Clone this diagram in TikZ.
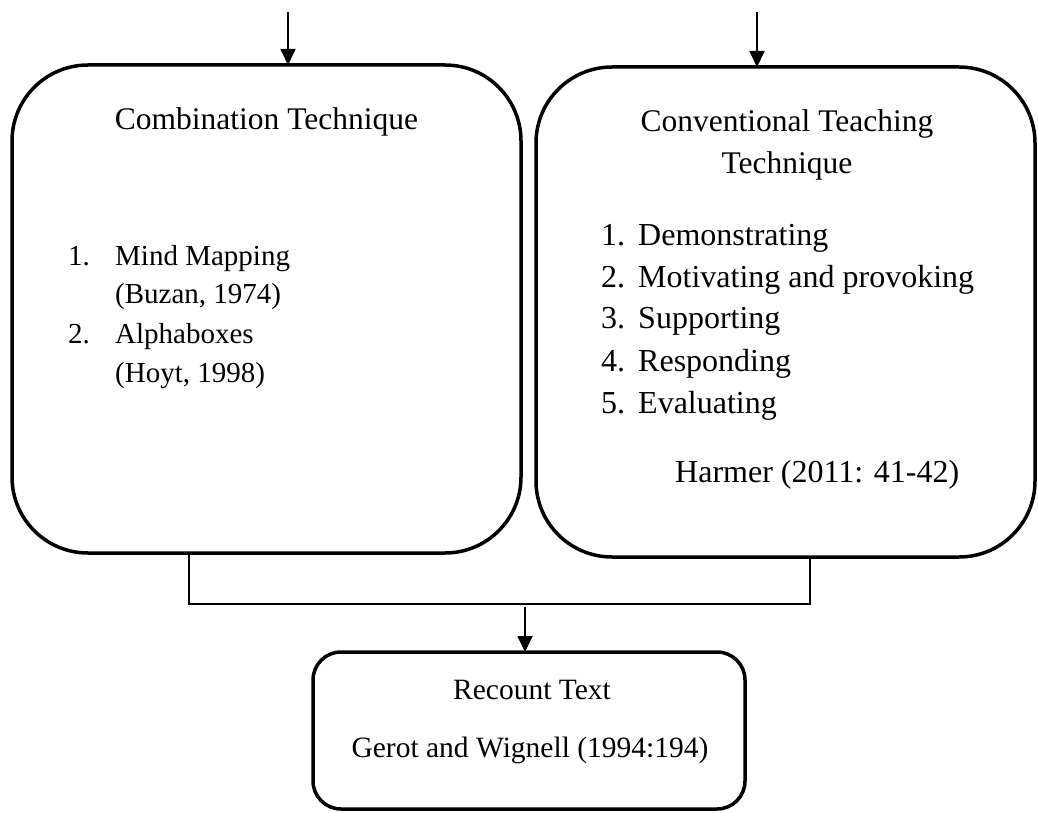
\documentclass[tikz,border=0pt]{standalone}
\usepackage{fontspec}
\setmainfont{Liberation Serif}
\usetikzlibrary{arrows.meta}
\begin{document}
\begin{tikzpicture}[x=1pt,y=-1pt,
  box/.style={draw, line width=3.5pt, inner sep=0pt, outer sep=0pt},
  conn/.style={line width=1.8pt},
  arr/.style={line width=1.8pt, -{Triangle[length=16pt,width=15pt]}},
  lt/.style={font=\fontsize{29}{35}\selectfont, inner sep=0pt, anchor=base},
  tt/.style={font=\fontsize{31.5}{38}\selectfont, inner sep=0pt, anchor=base},
  bt/.style={font=\fontsize{29.5}{35}\selectfont, inner sep=0pt, anchor=base},
  rt/.style={font=\fontsize{32}{38}\selectfont, inner sep=0pt, anchor=base}]
\useasboundingbox (0,0) rectangle (1038,813);

% boxes
\node[box, minimum width=509pt, minimum height=488pt, rounded corners=76pt] (L) at (266.5,309) {};
\node[box, minimum width=499pt, minimum height=490pt, rounded corners=76pt] (R) at (785.5,312) {};
\node[box, minimum width=432pt, minimum height=157pt, rounded corners=28pt] (B) at (529,730.5) {};

% left box text
\node[tt] (ct) at (266.5,130) {Combination Technique};
\node[lt, anchor=base west] (l1n) at (68,265) {1.};
\node[lt, anchor=base west] (l1) at (115,265) {Mind Mapping};
\node[lt, anchor=base west] (l1c) at (115,303) {(Buzan, 1974)};
\node[lt, anchor=base west] (l2n) at (68,343) {2.};
\node[lt, anchor=base west] (l2) at (115,343) {Alphaboxes};
\node[lt, anchor=base west] (l2c) at (115,382) {(Hoyt, 1998)};

% right box text
\node[tt] (rt1) at (787,132) {Conventional Teaching};
\node[tt] (rt2) at (787,174) {Technique};
\node[rt, anchor=base west] (r1n) at (601,245) {1.};
\node[rt, anchor=base west] (r1) at (638,245) {Demonstrating};
\node[rt, anchor=base west] (r2n) at (601,287) {2.};
\node[rt, anchor=base west] (r2) at (638,287) {Motivating and provoking};
\node[rt, anchor=base west] (r3n) at (601,328) {3.};
\node[rt, anchor=base west] (r3) at (638,328) {Supporting};
\node[rt, anchor=base west] (r4n) at (601,371) {4.};
\node[rt, anchor=base west] (r4) at (638,371) {Responding};
\node[rt, anchor=base west] (r5n) at (601,413) {5.};
\node[rt, anchor=base west] (r5) at (638,413) {Evaluating};
\node[rt, anchor=base west] (hr) at (675,482) {Harmer (2011: 41-42)};

% bottom box text
\node[bt] (rc) at (532,699) {Recount Text};
\node[bt] (gw) at (530,757) {Gerot and Wignell (1994:194)};

% connectors
\coordinate (a1) at (288,12);
\coordinate (a2) at (757,12);
\draw[arr] (a1) -- (a1 |- L.north);
\draw[arr] (a2) -- (a2 |- R.north);
\coordinate (cl) at (189,604);
\coordinate (cr) at (810,604);
\draw[conn] (cl |- L.south) -- (cl) -- (cr) -- (cr |- R.south);
\coordinate (a3) at (525,607);
\draw[arr] (a3) -- (a3 |- B.north);
\end{tikzpicture}
\end{document}
